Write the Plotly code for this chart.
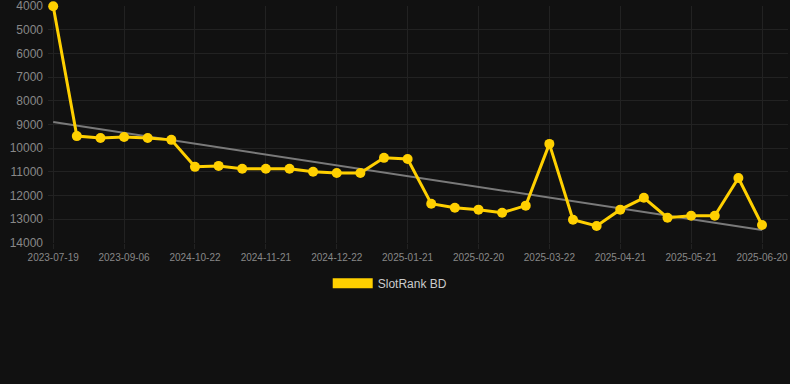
import numpy as np
import plotly.graph_objects as go

dates = [
    "2023-07-19", "2023-08-04", "2023-08-21", "2023-09-06", "2024-10-02", "2024-10-12",
    "2024-10-22", "2024-11-01", "2024-11-11", "2024-11-21", "2024-12-01", "2024-12-11",
    "2024-12-22", "2025-01-01", "2025-01-11", "2025-01-21", "2025-01-31", "2025-02-10",
    "2025-02-20", "2025-03-02", "2025-03-12", "2025-03-22", "2025-04-01", "2025-04-11",
    "2025-04-21", "2025-05-01", "2025-05-11", "2025-05-21", "2025-05-31", "2025-06-10",
    "2025-06-20",
]
ranks = [
    4000, 9490, 9570, 9530, 9570, 9650,
    10790, 10750, 10870, 10870, 10870, 11000,
    11050, 11050, 10410, 10460, 12350, 12520,
    12600, 12730, 12430, 9820, 13030, 13290,
    12600, 12100, 12940, 12860, 12860, 11260,
    13250,
]
tick_labels = [
    "2023-07-19", "2023-09-06", "2024-10-22", "2024-11-21", "2024-12-22", "2025-01-21",
    "2025-02-20", "2025-03-22", "2025-04-21", "2025-05-21", "2025-06-20",
]
y_ticks = [4000, 5000, 6000, 7000, 8000, 9000, 10000, 11000, 12000, 13000, 14000]
series_name = "SlotRank BD"

idx = np.arange(len(ranks))
slope, intercept = np.polyfit(idx, ranks, 1)
trend = [slope * i + intercept for i in idx]

fig = go.Figure()
fig.add_trace(go.Scatter(
    x=[dates[0], dates[-1]], y=[trend[0], trend[-1]], mode="lines",
    line=dict(color="#7a7a7a", width=2), showlegend=False, hoverinfo="skip",
))
fig.add_trace(go.Scatter(
    x=dates, y=ranks, mode="lines+markers", name=series_name,
    line=dict(color="#FFD000", width=3),
    marker=dict(color="#FFD000", size=10),
    showlegend=False, cliponaxis=False,
))
fig.add_trace(go.Scatter(
    x=[None], y=[None], mode="lines", name=series_name,
    line=dict(color="#FFD000", width=12), showlegend=True,
))

grid = "#222222"
fig.update_layout(
    width=790, height=384,
    paper_bgcolor="#111111", plot_bgcolor="#111111",
    margin=dict(l=48, r=2, t=6, b=141),
    font=dict(family="Liberation Sans, Arial, sans-serif", color="#888888", size=11),
    xaxis=dict(
        type="category", categoryorder="array", categoryarray=dates,
        tickmode="array", tickvals=tick_labels, ticktext=tick_labels,
        range=[-0.22, 31.1], showgrid=True, gridcolor=grid, gridwidth=1,
        zeroline=False, showline=False, ticks="outside", ticklen=5, tickcolor=grid,
        tickfont=dict(size=10, color="#888888"), tickangle=0, automargin=False,
    ),
    yaxis=dict(
        range=[14010, 3990], tickvals=y_ticks, ticktext=[str(v) for v in y_ticks],
        showgrid=True, gridcolor=grid, ticklabeloverflow="allow", automargin=False,
        zeroline=False, showline=False, ticks="", ticklabelstandoff=4,
        tickfont=dict(size=12, color="#888888"),
    ),
    legend=dict(
        orientation="h", x=0.378, xanchor="left", y=-0.17, yanchor="middle",
        itemwidth=40,
        font=dict(size=12, color="#cccccc"), bgcolor="rgba(0,0,0,0)",
    ),
    showlegend=True,
)

fig.write_html(
    "out.html",
    config={"displayModeBar": False},
    post_script="document.body.style.margin='0';document.body.style.background='#111111';",
)
